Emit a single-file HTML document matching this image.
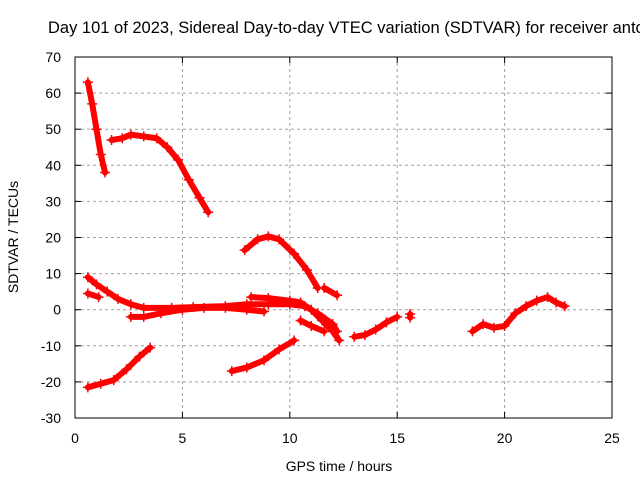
<!DOCTYPE html>
<html><head><meta charset="utf-8"><style>
body{margin:0;background:#fff;}
svg{display:block;font-family:"Liberation Sans",sans-serif;}
</style></head><body>
<svg id="c" width="640" height="480" xmlns="http://www.w3.org/2000/svg">
<text x="48" y="33" font-size="16.5">Day 101 of 2023, Sidereal Day-to-day VTEC variation (SDTVAR) for receiver antofagasta</text>
<g id="grid"></g>
<g id="ticks"></g>
<g id="series"></g>
<rect x="75" y="57" width="537" height="361" fill="none" stroke="#000" stroke-width="1"/>
<text x="339" y="471" font-size="14" text-anchor="middle">GPS time / hours</text>
<text transform="translate(18,237) rotate(-90)" font-size="14" text-anchor="middle">SDTVAR / TECUs</text>
</svg>
<script>
const xTicks=[0,5,10,15,20,25];
const yTicks=[-30,-20,-10,0,10,20,30,40,50,60,70];
const segments=[
[[0.6,63],[0.8,57],[1.0,50],[1.2,43],[1.4,38]],
[[1.7,47],[2.2,47.5],[2.6,48.5],[3.2,48],[3.8,47.5],[4.3,45],[4.8,41.5],[5.3,36],[5.8,31],[6.2,27]],
[[7.9,16.5],[8.5,19.5],[9.0,20.3],[9.5,19.5],[10.2,15.5],[10.8,11],[11.3,6]],
[[11.6,6],[12.2,4]],
[[0.6,9],[1.0,7],[1.5,5],[2.0,3],[2.6,1.5],[3.2,0.5],[4.5,0.5],[5.5,0.7],[7,1],[8,1.5],[9,1.5],[10,1.5],[10.7,1],[11.3,-1],[12,-4],[12.2,-6]],
[[0.6,4.5],[1.1,3.5]],
[[2.6,-2],[3.2,-2],[4,-1],[5,0],[6,0.5],[7,0.5],[8,0],[8.8,-0.5]],
[[8.2,3.5],[9,3.2],[10,2.5],[10.5,2],[11,0],[11.5,-3],[12,-6],[12.3,-8.5]],
[[10.5,-3],[11,-4.5],[11.6,-6]],
[[13,-7.5],[13.5,-7],[14,-5.5],[14.5,-3.5],[15,-2]],
[[15.6,-1.2],[15.6,-2.2]],
[[18.5,-6],[19,-4],[19.5,-5],[20,-4.5],[20.5,-1],[21,1],[21.5,2.5],[22,3.5],[22.4,2],[22.8,1]],
[[0.6,-21.5],[1.2,-20.5],[1.8,-19.5],[2.4,-16.5],[3.0,-13],[3.5,-10.5]],
[[7.3,-17],[8,-16],[8.8,-14],[9.5,-11],[10.2,-8.5]]
];
const X0=75,X1=612,Y0=418,Y1=57;
function sx(v){return X0+(v-0)/(25-0)*(X1-X0);}
function sy(v){return Y0-(v+30)/(100)*(Y0-Y1);}
const NS="http://www.w3.org/2000/svg";
function mk(t,a,p){const e=document.createElementNS(NS,t);for(const k in a)e.setAttribute(k,a[k]);p.appendChild(e);return e;}
const grid=document.getElementById('grid'),ticks=document.getElementById('ticks'),ser=document.getElementById('series');
xTicks.forEach(v=>{const x=sx(v);
 if(v>0&&v<25){const l=mk('line',{x1:x,x2:x,y1:Y1,y2:Y0,stroke:'#a0a0a0','stroke-dasharray':'3,3'},grid);
 }
 mk('line',{x1:x,x2:x,y1:Y0,y2:Y0-6,stroke:'#000'},ticks);mk('line',{x1:x,x2:x,y1:Y1,y2:Y1+6,stroke:'#000'},ticks);
 const t=mk('text',{x:x,y:443,'font-size':14,'text-anchor':'middle'},ticks);t.textContent=v;
 });
yTicks.forEach(v=>{const y=sy(v);
 if(v>-30&&v<70){const l=mk('line',{x1:X0,x2:X1,y1:y,y2:y,stroke:'#a0a0a0','stroke-dasharray':'3,3'},grid);
 }
 mk('line',{x1:X0,x2:X0+6,y1:y,y2:y,stroke:'#000'},ticks);mk('line',{x1:X1,x2:X1-6,y1:y,y2:y,stroke:'#000'},ticks);
 const t=mk('text',{x:61,y:y+5,'font-size':14,'text-anchor':'end'},ticks);t.textContent=v;
 });
segments.forEach(seg=>{
 const pts=seg.map(p=>sx(p[0])+','+sy(p[1])).join(' ');
 const pl=mk('polyline',{points:pts,fill:'none',stroke:'#f00','stroke-width':6,'stroke-linejoin':'round','stroke-linecap':'round'},ser);
 
 seg.forEach(p=>{const x=sx(p[0]),y=sy(p[1]);
  const m=mk('path',{d:`M${x-5},${y}H${x+5}M${x},${y-5}V${y+5}`,stroke:'#f00','stroke-width':1.5},ser);
  });
});
</script>
</body></html>
